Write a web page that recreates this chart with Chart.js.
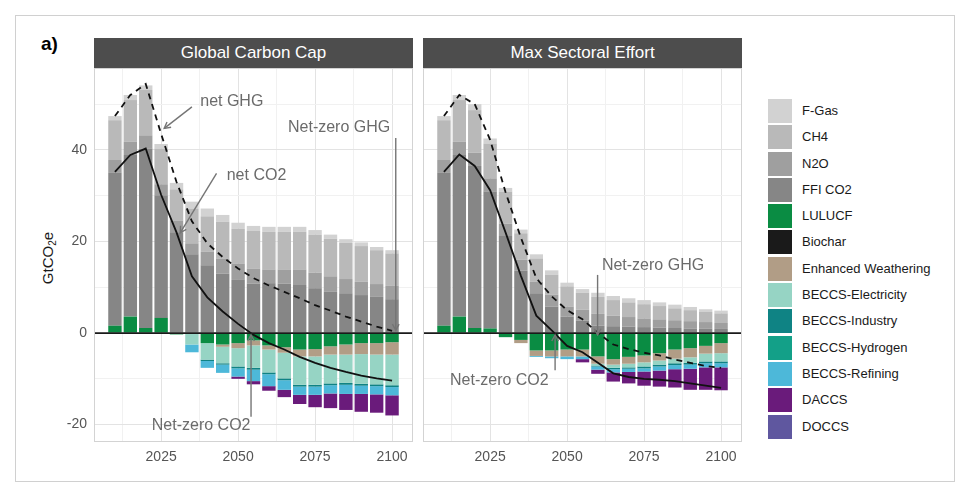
<!DOCTYPE html>
<html>
<head>
<meta charset="utf-8">
<script src="https://cdn.jsdelivr.net/npm/chart.js@4.4.1/dist/chart.umd.min.js"></script>
<style>
  body { margin: 0; background: #fff; font-family: "Liberation Sans", Arial, sans-serif; }
  #fig { position: relative; width: 969px; height: 496px; overflow: hidden; }
  .frame { position: absolute; left: 15px; top: 15px; width: 938px; height: 465px; border: 1px solid #d0d0d0; }
  .tag { position: absolute; left: 41px; top: 33px; font-size: 19px; font-weight: bold; color: #000; }
  .ytitle { position: absolute; left: 48px; top: 258px; transform: translate(-50%, -50%) rotate(-90deg); font-size: 15px; color: #1a1a1a; white-space: nowrap; }
  .ytitle sub { font-size: 10px; vertical-align: -3px; }
  .strip { position: absolute; top: 38px; height: 30px; line-height: 30px; background: #4d4d4d; color: #fff; font-size: 17px; text-align: center; }
  canvas { position: absolute; }
  .legend { position: absolute; left: 768px; top: 99px; }
  .legend .item { position: relative; height: 26.3px; }
  .legend .sw { position: absolute; left: 0; top: 0; width: 24px; height: 24px; }
  .legend .lbl { position: absolute; left: 34px; top: 0; line-height: 24px; font-size: 13px; color: #1a1a1a; white-space: nowrap; }
</style>
</head>
<body>
<div id="fig">
  <div class="frame"></div>
  <div class="tag">a)</div>
  <div class="ytitle">GtCO<sub>2</sub>e</div>
  <div class="strip" style="left:94px;width:319px;">Global Carbon Cap</div>
  <div class="strip" style="left:423px;width:319px;">Max Sectoral Effort</div>
  <canvas id="left" width="414" height="404" style="left:0;top:68px;width:414px;height:404px;"></canvas>
  <canvas id="right" width="325" height="404" style="left:418px;top:68px;width:325px;height:404px;"></canvas>
  <div class="legend" id="legend"></div>
</div>
<script>
// ── Data ──
const years = [2010, 2015, 2020, 2025, 2030, 2035, 2040, 2045, 2050, 2055, 2060, 2065, 2070, 2075, 2080, 2085, 2090, 2095, 2100];
const xMajor = [2025, 2050, 2075, 2100];
const xMinor = [2012.5, 2037.5, 2062.5, 2087.5];
const yMajor = [-20, 0, 20, 40];
const yMinor = [-10, 10, 30, 50];

// Global Carbon Cap
const fgasL    = [0.9, 1.1, 1.0, 1.0, 1.4, 1.5, 1.7, 1.5, 1.3, 1.1, 1.1, 1.1, 1.1, 1.0, 0.9, 0.8, 0.8, 0.7, 0.7];
const ch4L     = [8.7, 9.1, 9.9, 7.8, 6.8, 7.6, 7.7, 8.0, 7.6, 8.2, 8.2, 8.2, 8.2, 8.3, 8.2, 7.9, 7.8, 7.4, 7.1];
const n2oL     = [2.8, 2.9, 2.9, 2.4, 2.6, 2.4, 3.0, 3.3, 3.6, 3.3, 3.0, 3.1, 3.4, 3.4, 3.4, 3.1, 2.9, 2.8, 2.9];
const ffiL     = [33.4, 35.3, 39.2, 26.8, 22.0, 17.2, 14.8, 13.0, 11.6, 10.8, 10.9, 10.8, 10.5, 9.8, 9.0, 8.7, 8.3, 7.9, 7.4];
const lulucfL  = [1.6, 3.6, 1.1, 3.3, -0.3, 0, -2.2, -2.5, -2.2, -1.6, -2.7, -3.1, -3.6, -3.5, -2.9, -2.5, -2.2, -2.2, -2.0];
const biocharL = [0, 0, 0, 0, 0, 0, 0, 0, 0, 0, 0, 0, 0, 0, 0, 0, 0, 0, 0];
const ewL      = [0, 0, 0, 0, 0, 0, 0, -0.5, -1.1, -1.1, -0.9, -1.2, -1.5, -1.6, -1.8, -2.2, -2.4, -2.5, -2.7];
const beElecL  = [0, 0, 0, 0, 0, -2.5, -3.6, -3.6, -4.0, -4.9, -5.0, -5.6, -6.2, -6.2, -6.3, -6.2, -6.5, -6.5, -6.7];
const beIndL   = [0, 0, 0, 0, 0, 0, -0.3, -0.3, -0.4, -0.4, -0.4, -0.4, -0.4, -0.4, -0.4, -0.4, -0.4, -0.4, -0.4];
const beH2L    = [0, 0, 0, 0, 0, 0, 0, 0, 0, 0, 0, 0, 0, 0, 0, 0, 0, 0, 0];
const beRefL   = [0, 0, 0, 0, 0, -1.7, -1.5, -1.8, -1.8, -2.5, -2.6, -2.1, -1.8, -1.8, -1.8, -2.0, -1.8, -1.8, -1.8];
const daccsL   = [0, 0, 0, 0, 0, 0, 0, 0, -0.5, -0.7, -1.0, -1.6, -2.0, -2.7, -3.2, -3.5, -3.9, -4.0, -4.4];
const doccsL   = [0, 0, 0, 0, 0, 0, 0, 0, 0, 0, 0, 0, 0, 0, 0, 0, 0, 0, 0];
const netGhgL  = [47.4, 52.0, 54.4, 43.5, 33.0, 24.4, 19.6, 16.6, 14.1, 12.0, 10.4, 9.0, 7.6, 6.1, 4.9, 3.6, 2.5, 1.4, 0.5];
const netCo2L  = [35.2, 38.9, 40.3, 30.2, 22.0, 12.4, 7.8, 4.7, 2.0, -0.4, -2.2, -3.6, -5.2, -6.5, -7.6, -8.5, -9.3, -9.9, -10.4];

// Max Sectoral Effort
const fgasR    = [0.9, 1.1, 1.3, 1.1, 0.8, 0.8, 0.9, 1.0, 0.8, 0.8, 0.9, 0.9, 0.9, 0.9, 0.8, 0.8, 0.7, 0.6, 0.6];
const ch4R     = [8.7, 9.1, 9.3, 7.6, 7.0, 5.8, 5.1, 4.3, 4.4, 3.7, 3.7, 3.4, 3.2, 3.1, 2.9, 2.6, 2.4, 2.2, 2.1];
const n2oR     = [2.8, 2.9, 2.9, 2.9, 2.7, 2.4, 2.5, 2.6, 2.2, 2.4, 2.6, 2.3, 2.1, 1.9, 1.8, 1.7, 1.6, 1.4, 1.3];
const ffiR     = [33.4, 35.3, 35.4, 29.9, 21.2, 13.6, 8.7, 5.8, 3.6, 2.7, 1.6, 1.5, 1.4, 1.3, 1.2, 1.1, 1.0, 1.0, 0.9];
const lulucfR  = [1.6, 3.6, 1.1, 1.0, -0.9, -1.5, -3.8, -3.8, -3.6, -3.6, -5.1, -5.7, -5.2, -4.9, -4.4, -3.6, -3.3, -2.8, -2.2];
const biocharR = [0, 0, 0, 0, 0, 0, 0, 0, 0, 0, 0, 0, 0, 0, 0, 0, 0, 0, 0];
const ewR      = [0, 0, 0, 0, 0, -0.7, -1.2, -1.3, -1.5, -1.5, -1.6, -1.2, -1.5, -1.5, -1.6, -2.0, -2.0, -1.7, -2.2];
const beElecR  = [0, 0, 0, 0, 0, 0, 0, 0, 0, 0, -0.4, -0.7, -0.8, -0.9, -0.9, -1.0, -1.2, -1.7, -1.8];
const beIndR   = [0, 0, 0, 0, 0, 0, 0, 0, 0, 0, -0.2, -0.3, -0.3, -0.4, -0.4, -0.4, -0.4, -0.4, -0.4];
const beH2R    = [0, 0, 0, 0, 0, 0, 0, 0, 0, 0, 0, 0, 0, 0, 0, 0, 0, 0, 0];
const beRefR   = [0, 0, 0, 0, 0, 0, -0.2, -0.4, -0.6, -0.6, -0.7, -0.7, -0.7, -0.7, -0.9, -0.9, -0.9, -0.9, -0.9];
const daccsR   = [0, 0, 0, 0, 0, 0, 0, 0, 0, -0.7, -0.9, -2.0, -2.5, -3.1, -3.5, -4.0, -4.6, -4.9, -5.0];
const doccsR   = [0, 0, 0, 0, 0, 0, 0, 0, 0, 0, 0, 0, 0, 0, 0, 0, 0, 0, 0];
const netGhgR  = [47.4, 52.0, 50.0, 42.2, 30.8, 20.8, 12.0, 8.0, 5.0, 3.0, 0.0, -2.5, -3.5, -4.3, -4.9, -5.8, -6.5, -7.2, -7.6];
const netCo2R  = [35.2, 39.0, 36.5, 31.2, 22.0, 12.5, 3.8, 0.6, -2.8, -4.2, -6.5, -8.8, -9.6, -10.0, -10.2, -10.5, -11.0, -11.5, -12.0];

// legend order (top to bottom) and colours
const legendNames = ['F-Gas', 'CH4', 'N2O', 'FFI CO2', 'LULUCF', 'Biochar', 'Enhanced Weathering',
  'BECCS-Electricity', 'BECCS-Industry', 'BECCS-Hydrogen', 'BECCS-Refining', 'DACCS', 'DOCCS'];
const COLORS = {
  'F-Gas': '#d2d2d2', 'CH4': '#b9b9b9', 'N2O': '#9f9f9f', 'FFI CO2': '#868686',
  'LULUCF': '#0a8c43', 'Biochar': '#1a1a1a', 'Enhanced Weathering': '#b19d86',
  'BECCS-Electricity': '#96d4c4', 'BECCS-Industry': '#0f8384', 'BECCS-Hydrogen': '#13a088',
  'BECCS-Refining': '#4db8d9', 'DACCS': '#6a1b7b', 'DOCCS': '#5f579f'
};

Chart.defaults.font.family = '"Liberation Sans", Arial, sans-serif';

// ── Helpers ──
const $ = id => document.getElementById(id);
const pts = arr => years.map((yr, i) => ({ x: yr, y: arr[i] }));

// ── Annotation + panel plugin ──
function arrowHead(ctx, x1, y1, x2, y2) {
  const ang = Math.atan2(y2 - y1, x2 - x1);
  const len = 7;
  ctx.beginPath();
  ctx.moveTo(x2 - len * Math.cos(ang - 0.5), y2 - len * Math.sin(ang - 0.5));
  ctx.lineTo(x2, y2);
  ctx.lineTo(x2 - len * Math.cos(ang + 0.5), y2 - len * Math.sin(ang + 0.5));
  ctx.stroke();
}

const panelPlugin = {
  id: 'panel',
  afterDatasetsDraw(chart, args, opts) {
    const { ctx, chartArea: a, scales: { x, y } } = chart;
    ctx.save();
    // zero line
    const y0 = y.getPixelForValue(0);
    ctx.strokeStyle = '#1a1a1a';
    ctx.lineWidth = 1.7;
    ctx.beginPath(); ctx.moveTo(a.left, y0); ctx.lineTo(a.right, y0); ctx.stroke();
    // panel border
    ctx.strokeStyle = '#d3d3d3';
    ctx.lineWidth = 1;
    ctx.strokeRect(a.left + 0.5, a.top + 0.5, a.width - 1, a.height - 1);
    // notes
    ctx.font = '16px "Liberation Sans", Arial, sans-serif';
    ctx.textBaseline = 'middle';
    (opts.notes || []).forEach(n => {
      ctx.fillStyle = '#6b6b6b';
      ctx.textAlign = n.align || 'center';
      ctx.fillText(n.text, x.getPixelForValue(n.at[0]), y.getPixelForValue(n.at[1]));
      const x1 = x.getPixelForValue(n.from[0]), y1 = y.getPixelForValue(n.from[1]);
      const x2 = x.getPixelForValue(n.to[0]), y2 = y.getPixelForValue(n.to[1]);
      ctx.strokeStyle = '#757575';
      ctx.lineWidth = 1.4;
      ctx.beginPath(); ctx.moveTo(x1, y1); ctx.lineTo(x2, y2); ctx.stroke();
      arrowHead(ctx, x1, y1, x2, y2);
    });
    ctx.restore();
  }
};

// ── Chart builder ──
function buildPanel(canvasId, s, notes, showY) {
  const barSeries = [
    ['LULUCF', s.lulucf], ['FFI CO2', s.ffi], ['N2O', s.n2o], ['CH4', s.ch4], ['F-Gas', s.fgas],
    ['Biochar', s.biochar], ['Enhanced Weathering', s.ew], ['BECCS-Electricity', s.beElec],
    ['BECCS-Industry', s.beInd], ['BECCS-Hydrogen', s.beH2], ['BECCS-Refining', s.beRef],
    ['DACCS', s.daccs], ['DOCCS', s.doccs]
  ];
  const datasets = barSeries.map(([name, arr]) => ({
    type: 'bar', label: name, data: pts(arr), stack: 'e',
    backgroundColor: COLORS[name], borderWidth: 0,
    barPercentage: 0.87, categoryPercentage: 1
  }));
  datasets.push({
    type: 'line', label: 'net GHG', data: pts(s.netGhg), stack: 'ghg', order: -1,
    borderColor: '#111', borderWidth: 1.8, borderDash: [6, 5], pointRadius: 0, tension: 0, fill: false
  });
  datasets.push({
    type: 'line', label: 'net CO2', data: pts(s.netCo2), stack: 'co2', order: -1,
    borderColor: '#111', borderWidth: 1.8, pointRadius: 0, tension: 0, fill: false
  });

  const xGrid = xMinor.concat(xMajor).sort((a, b) => a - b);
  const yGrid = yMinor.concat(yMajor).sort((a, b) => a - b);

  return new Chart($(canvasId), {
    data: { datasets },
    plugins: [panelPlugin],
    options: {
      responsive: false,
      animation: false,
      layout: { padding: { left: 0, right: 1, top: 0, bottom: 0 } },
      plugins: { legend: { display: false }, tooltip: { enabled: false }, panel: { notes } },
      scales: {
        x: {
          type: 'linear', min: 2003.2, max: 2106.8, stacked: true, offset: false,
          afterBuildTicks: sc => { sc.ticks = xGrid.map(v => ({ value: v })); },
          afterFit: sc => { sc.height = 30; sc.paddingLeft = 0; sc.paddingRight = 0; },
          grid: { offset: false, drawTicks: false, lineWidth: 1,
            color: c => xMajor.includes(c.tick.value) ? '#e3e3e3' : '#f1f1f1' },
          border: { display: false },
          ticks: { autoSkip: false, maxRotation: 0, padding: 7, color: '#555', font: { size: 14 },
            callback: v => xMajor.includes(v) ? String(v) : '' }
        },
        y: {
          type: 'linear', min: -23.8, max: 57.9, stacked: true,
          afterBuildTicks: sc => { sc.ticks = yGrid.map(v => ({ value: v })); },
          afterFit: sc => { sc.width = showY ? 94 : 5; sc.paddingTop = 0; sc.paddingBottom = 0; },
          grid: { drawTicks: false, lineWidth: 1,
            color: c => yMajor.includes(c.tick.value) ? '#e3e3e3' : '#f1f1f1' },
          border: { display: false },
          ticks: { display: showY, padding: 7, color: '#555', font: { size: 14 },
            callback: v => yMajor.includes(v) ? String(v) : '' }
        }
      }
    }
  });
}

// ── Panels ──
buildPanel('left', {
  fgas: fgasL, ch4: ch4L, n2o: n2oL, ffi: ffiL, lulucf: lulucfL, biochar: biocharL, ew: ewL,
  beElec: beElecL, beInd: beIndL, beH2: beH2L, beRef: beRefL, daccs: daccsL, doccs: doccsL,
  netGhg: netGhgL, netCo2: netCo2L
}, [
  { text: 'net GHG', align: 'left', at: [2037.7, 50.5], from: [2035.0, 49.4], to: [2026.0, 44.7] },
  { text: 'net CO2', align: 'left', at: [2046.3, 34.5], from: [2043.0, 34.9], to: [2031.2, 21.9] },
  { text: 'Net-zero GHG', at: [2082.8, 44.8], from: [2101.2, 42.6], to: [2101.2, 0.6] },
  { text: 'Net-zero CO2', at: [2038.0, -20.3], from: [2054.2, -18.3], to: [2054.2, -0.4] }
], true);

buildPanel('right', {
  fgas: fgasR, ch4: ch4R, n2o: n2oR, ffi: ffiR, lulucf: lulucfR, biochar: biocharR, ew: ewR,
  beElec: beElecR, beInd: beIndR, beH2: beH2R, beRef: beRefR, daccs: daccsR, doccs: doccsR,
  netGhg: netGhgR, netCo2: netCo2R
}, [
  { text: 'Net-zero GHG', at: [2077.9, 14.8], from: [2059.9, 12.7], to: [2059.9, -0.4] },
  { text: 'Net-zero CO2', at: [2028.0, -10.3], from: [2046.1, -8.1], to: [2046.1, -0.4] }
], false);

// ── Legend ──
$('legend').innerHTML = legendNames.map(n =>
  `<div class="item"><div class="sw" style="background:${COLORS[n]}"></div><div class="lbl">${n}</div></div>`
).join('');
</script>
</body>
</html>
